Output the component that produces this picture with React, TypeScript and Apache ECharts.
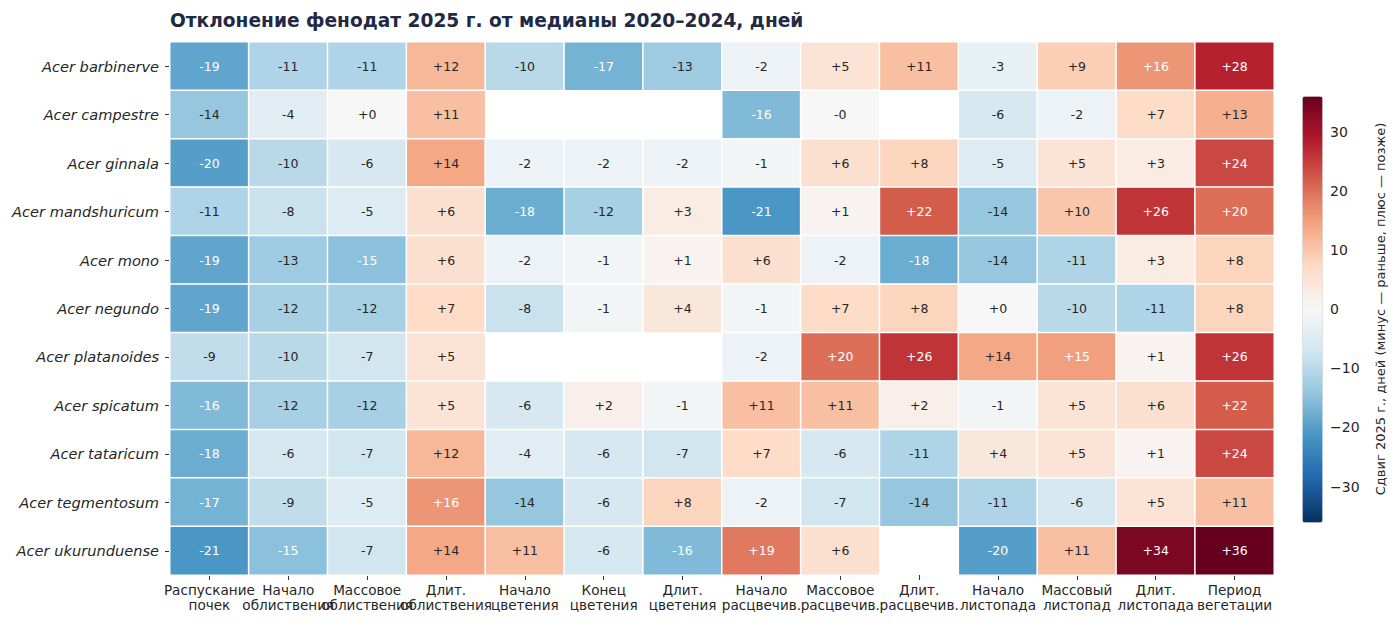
import React, { useEffect, useRef } from "react";
import * as echarts from "echarts";

// Phenological stages (columns)
const stages: string[] = [
  "Распускание\nпочек",
  "Начало\nоблиствения",
  "Массовое\nоблиствения",
  "Длит.\nоблиствения",
  "Начало\nцветения",
  "Конец\nцветения",
  "Длит.\nцветения",
  "Начало\nрасцвечив.",
  "Массовое\nрасцвечив.",
  "Длит.\nрасцвечив.",
  "Начало\nлистопада",
  "Массовый\nлистопад",
  "Длит.\nлистопада",
  "Период\nвегетации",
];

// Species (rows, top to bottom)
const species: string[] = [
  "Acer barbinerve",
  "Acer campestre",
  "Acer ginnala",
  "Acer mandshuricum",
  "Acer mono",
  "Acer negundo",
  "Acer platanoides",
  "Acer spicatum",
  "Acer tataricum",
  "Acer tegmentosum",
  "Acer ukurunduense",
];

// Shift of 2025 dates vs. 2020–2024 median, days (null = no data)
const barbinerve = [-19, -11, -11, 12, -10, -17, -13, -2, 5, 11, -3, 9, 16, 28];
const campestre = [-14, -4, 0, 11, null, null, null, -16, -0, null, -6, -2, 7, 13];
const ginnala = [-20, -10, -6, 14, -2, -2, -2, -1, 6, 8, -5, 5, 3, 24];
const mandshuricum = [-11, -8, -5, 6, -18, -12, 3, -21, 1, 22, -14, 10, 26, 20];
const mono = [-19, -13, -15, 6, -2, -1, 1, 6, -2, -18, -14, -11, 3, 8];
const negundo = [-19, -12, -12, 7, -8, -1, 4, -1, 7, 8, 0, -10, -11, 8];
const platanoides = [-9, -10, -7, 5, null, null, null, -2, 20, 26, 14, 15, 1, 26];
const spicatum = [-16, -12, -12, 5, -6, 2, -1, 11, 11, 2, -1, 5, 6, 22];
const tataricum = [-18, -6, -7, 12, -4, -6, -7, 7, -6, -11, 4, 5, 1, 24];
const tegmentosum = [-17, -9, -5, 16, -14, -6, 8, -2, -7, -14, -11, -6, 5, 11];
const ukurunduense = [-21, -15, -7, 14, 11, -6, -16, 19, 6, null, -20, 11, 34, 36];

const rows: (number | null)[][] = [
  barbinerve,
  campestre,
  ginnala,
  mandshuricum,
  mono,
  negundo,
  platanoides,
  spicatum,
  tataricum,
  tegmentosum,
  ukurunduense,
];

// Colour-scale limits and colorbar ticks
const scaleMin = -36;
const scaleMax = 36;
const colorbarTicks = [-30, -20, -10, 0, 10, 20, 30];

const RdBu_r = [
  "#053061",
  "#2166ac",
  "#4393c3",
  "#92c5de",
  "#d1e5f0",
  "#f7f7f7",
  "#fddbc7",
  "#f4a582",
  "#d6604d",
  "#b2182b",
  "#67001f",
];

const FONT = "DejaVu Sans";

function signed(v: number): string {
  if (Object.is(v, -0)) return "-0";
  return v >= 0 ? "+" + v : String(v);
}

export default function App() {
  const ref = useRef<HTMLDivElement>(null);

  useEffect(() => {
    if (!ref.current) return;
    const chart = echarts.init(ref.current, undefined, { renderer: "svg" });

    const data: any[] = [];
    rows.forEach((row, yi) => {
      row.forEach((v, xi) => {
        if (v === null) return;
        data.push({
          value: [xi, yi, v],
          label: { color: Math.abs(v) >= 15 ? "#ffffff" : "#262626" },
        });
      });
    });

    const option: any = {
      animation: false,
      backgroundColor: "#ffffff",
      title: {
        text: "Отклонение фенодат 2025 г. от медианы 2020–2024, дней",
        left: 165,
        top: 6,
        textStyle: {
          fontFamily: FONT,
          fontWeight: "bold",
          fontSize: 18.6,
          color: "#1f2a44",
        },
      },
      grid: [
        { left: 170, top: 42, width: 1104, height: 533 },
        { left: 1302, top: 96, width: 20, height: 426 },
      ],
      xAxis: [
        {
          type: "category",
          gridIndex: 0,
          data: stages,
          position: "bottom",
          axisLine: { show: false },
          axisTick: {
            show: true,
            alignWithLabel: true,
            length: 5,
            lineStyle: { color: "#333", width: 1 },
          },
          axisLabel: {
            interval: 0,
            margin: 7,
            fontFamily: FONT,
            fontSize: 13.6,
            lineHeight: 15.5,
            color: "#262626",
            align: "center",
          },
          splitLine: { show: false },
        },
        {
          type: "value",
          gridIndex: 1,
          show: false,
          min: 0,
          max: 1,
        },
      ],
      yAxis: [
        {
          type: "category",
          gridIndex: 0,
          data: species,
          inverse: true,
          axisLine: { show: false },
          axisTick: {
            show: true,
            alignWithLabel: true,
            length: 5,
            lineStyle: { color: "#333", width: 1 },
          },
          axisLabel: {
            margin: 11,
            fontFamily: FONT,
            fontSize: 14.6,
            fontStyle: "italic",
            color: "#262626",
          },
          splitLine: { show: false },
        },
        {
          type: "value",
          gridIndex: 1,
          position: "right",
          min: scaleMin,
          max: scaleMax,
          axisLine: { show: false },
          splitLine: { show: false },
          axisTick: {
            show: true,
            length: 4,
            customValues: colorbarTicks,
            lineStyle: { color: "#333", width: 1 },
          },
          axisLabel: {
            margin: 8,
            customValues: colorbarTicks,
            fontFamily: FONT,
            fontSize: 14,
            color: "#262626",
            formatter: (v: number) => String(v).replace("-", "\u2212"),
          },
          name: "Сдвиг 2025 г., дней (минус — раньше, плюс — позже)",
          nameLocation: "middle",
          nameRotate: 90,
          nameGap: 52,
          nameTextStyle: {
            fontFamily: FONT,
            fontSize: 13,
            color: "#262626",
          },
        },
      ],
      visualMap: {
        type: "continuous",
        min: scaleMin,
        max: scaleMax,
        seriesIndex: 0,
        calculable: false,
        show: true,
        orient: "vertical",
        left: 1302,
        top: 96,
        itemWidth: 20,
        itemHeight: 426,
        padding: 0,
        text: null,
        showLabel: false,
        borderWidth: 1,
        borderColor: "#dfe3ea",
        inRange: { color: RdBu_r },
      },
      series: [
        {
          type: "heatmap",
          xAxisIndex: 0,
          yAxisIndex: 0,
          data,
          itemStyle: { borderColor: "#ffffff", borderWidth: 1.5 },
          label: {
            show: true,
            fontFamily: FONT,
            fontSize: 12.5,
            formatter: (p: any) => signed(p.data.value[2]),
          },
          emphasis: { disabled: true },
        },
      ],
    };

    chart.setOption(option);
    return () => chart.dispose();
  }, []);

  return (
    <div
      ref={ref}
      style={{
        position: "fixed",
        left: 0,
        top: 0,
        width: 1400,
        height: 628,
        background: "#ffffff",
      }}
    />
  );
}
